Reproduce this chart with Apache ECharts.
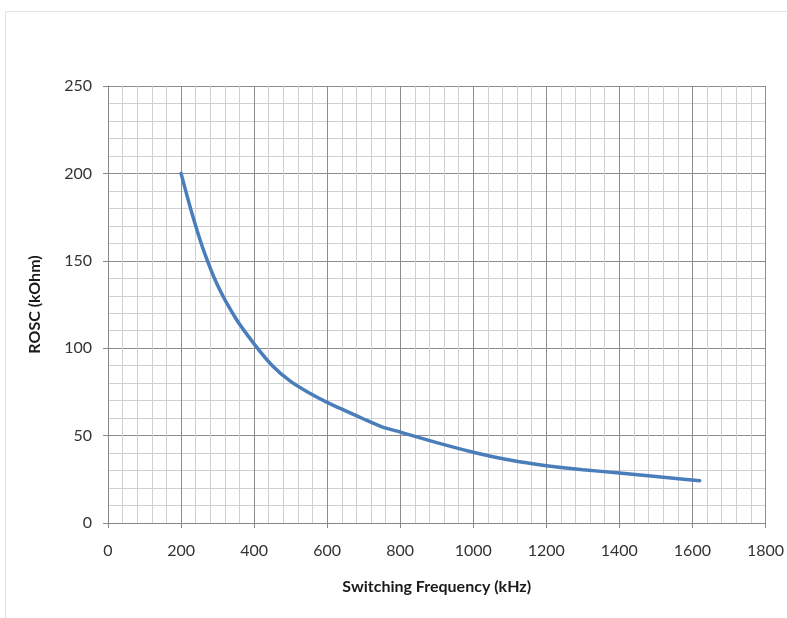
<!DOCTYPE html>
<html>
<head>
<meta charset="utf-8">
<script src="https://cdn.jsdelivr.net/npm/echarts@6/dist/echarts.min.js"></script>
<style>html,body{margin:0;padding:0;background:#fff}#c{width:787px;height:618px}</style>
</head>
<body>
<div id="c"></div>
<script>
const freq = [200, 230, 260, 300, 350, 400, 450, 500, 550, 600, 700, 750, 800, 900, 1000, 1100, 1200, 1300, 1400, 1500, 1620];
const rosc = [200, 177, 157, 136, 117, 102.5, 90, 81, 74.5, 69, 59.5, 55, 52, 46, 40.5, 36, 32.8, 30.5, 28.6, 26.6, 24.2];
const xTicks = [0, 1800, 200];
const yTicks = [0, 250, 50];

const chart = echarts.init(document.getElementById('c'), null, {renderer: 'canvas'});
const font = 'Lato, "Liberation Sans", sans-serif';
chart.setOption({
  animation: false,
  backgroundColor: '#ffffff',
  graphic: [{
    type: 'rect', silent: true,
    shape: {x: 5.5, y: 11.5, width: 820, height: 640},
    style: {fill: 'none', stroke: '#e3e3e3', lineWidth: 1}
  }],
  grid: {left: 108, right: 20, top: 86, bottom: 95, containLabel: false},
  xAxis: {
    type: 'value', min: xTicks[0], max: xTicks[1], interval: xTicks[2],
    name: 'Switching Frequency (kHz)', nameLocation: 'middle', nameGap: 56,
    nameTextStyle: {fontFamily: font, fontSize: 16, fontWeight: 'bold', color: '#1a1a1a'},
    axisLine: {show: true, lineStyle: {color: '#868686', width: 1}},
    axisTick: {show: true, inside: false, length: 5, lineStyle: {color: '#868686'}},
    axisLabel: {fontFamily: font, fontSize: 16, color: '#333', margin: 20, formatter: v => String(v)},
    splitLine: {show: true, lineStyle: {color: '#8c8c8c', width: 1}},
    minorTick: {show: false, splitNumber: 5},
    minorSplitLine: {show: true, lineStyle: {color: '#cfcfcf', width: 1}}
  },
  yAxis: {
    type: 'value', min: yTicks[0], max: yTicks[1], interval: yTicks[2],
    name: 'ROSC (kOhm)', nameLocation: 'middle', nameGap: 65, nameRotate: 90,
    nameTextStyle: {fontFamily: font, fontSize: 16, fontWeight: 'bold', color: '#1a1a1a'},
    axisLine: {show: true, lineStyle: {color: '#868686', width: 1}},
    axisTick: {show: true, inside: false, length: 5, lineStyle: {color: '#868686'}},
    axisLabel: {fontFamily: font, fontSize: 16, color: '#333', margin: 16, formatter: v => String(v)},
    splitLine: {show: true, lineStyle: {color: '#8c8c8c', width: 1}},
    minorTick: {show: false, splitNumber: 5},
    minorSplitLine: {show: true, lineStyle: {color: '#cfcfcf', width: 1}}
  },
  series: [{
    type: 'line',
    data: freq.map((f, i) => [f, rosc[i]]),
    smooth: 0.25,
    showSymbol: false,
    lineStyle: {color: '#4a7ebb', width: 3.5, cap: 'round'}
  }]
});
</script>
</body>
</html>
